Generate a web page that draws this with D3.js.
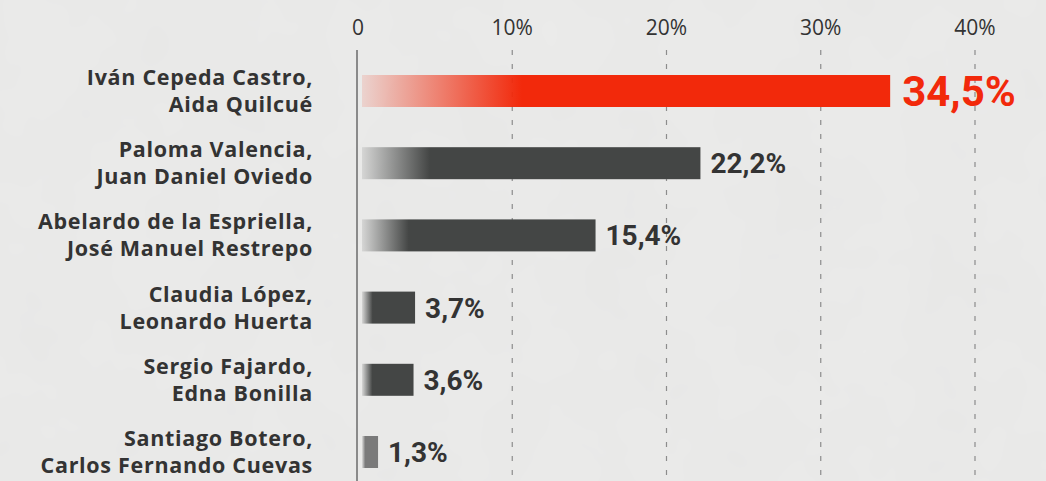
<!DOCTYPE html>
<html>
<head>
<meta charset="utf-8">
<script src="https://cdn.jsdelivr.net/npm/d3@7"></script>
<style>
  body { margin: 0; background: #ebebea; }
  svg { display: block; }
</style>
</head>
<body>
<svg id="chart" width="1046" height="481"></svg>
<script>
// Vote intention by ticket
var line1 = ["Iván Cepeda Castro,", "Paloma Valencia,", "Abelardo de la Espriella,", "Claudia López,", "Sergio Fajardo,", "Santiago Botero,"];
var line2 = ["Aida Quilcué", "Juan Daniel Oviedo", "José Manuel Restrepo", "Leonardo Huerta", "Edna Bonilla", "Carlos Fernando Cuevas"];
var values = [34.5, 22.2, 15.4, 3.7, 3.6, 1.3];
var barColors = ["#f2290b", "#444645", "#444645", "#444645", "#444645", "#7a7a7a"];
var ticks = [0, 10, 20, 30, 40];

var svg = d3.select("#chart");

// faint paper texture
var defs = svg.append("defs");
var filter = defs.append("filter").attr("id", "paper");
filter.append("feTurbulence")
    .attr("type", "fractalNoise")
    .attr("baseFrequency", 0.012)
    .attr("numOctaves", 3)
    .attr("seed", 4);
filter.append("feColorMatrix")
    .attr("values", "0 0 0 0 0.55  0 0 0 0 0.55  0 0 0 0 0.55  0 0 0 0.09 0");
svg.append("rect")
    .attr("width", 1046).attr("height", 481)
    .attr("fill", "#ebebea");
svg.append("rect")
    .attr("width", 1046).attr("height", 481)
    .attr("filter", "url(#paper)");

var xScale = d3.scaleLinear()
    .domain([0, 40])
    .range([358, 975]);

var yScale = d3.scalePoint()
    .domain(line1)
    .range([91, 452]);

var barH = 32;

// grid lines
svg.selectAll("line.grid")
    .data(ticks.slice(1))
    .enter()
    .append("line")
    .attr("class", "grid")
    .attr("x1", (d) => xScale(d))
    .attr("x2", (d) => xScale(d))
    .attr("y1", 50)
    .attr("y2", 481)
    .attr("stroke", "#8c8c8c")
    .attr("stroke-width", 1.2)
    .attr("stroke-dasharray", "5,9");

// tick labels
svg.selectAll("text.tick")
    .data(ticks)
    .enter()
    .append("text")
    .attr("class", "tick")
    .attr("x", (d) => xScale(d))
    .attr("y", 35)
    .attr("text-anchor", "middle")
    .attr("font-family", "'Open Sans', sans-serif")
    .attr("font-size", 21)
    .attr("fill", "#333")
    .text((d) => d === 0 ? "0" : d + "%");

// axis line
svg.append("line")
    .attr("x1", 357).attr("x2", 357)
    .attr("y1", 50).attr("y2", 481)
    .attr("stroke", "#8a8a8a")
    .attr("stroke-width", 2);

// one fading gradient per bar, fade scaled to bar length
values.forEach(function (v, i) {
    var x0 = xScale(0) + 4;
    var w = xScale(v) - x0;
    var fade = i === 0 ? 160 : Math.min(70, w * 0.2);
    var g = defs.append("linearGradient")
        .attr("id", "grad" + i)
        .attr("gradientUnits", "userSpaceOnUse")
        .attr("x1", x0).attr("x2", x0 + fade)
        .attr("y1", 0).attr("y2", 0);
    g.append("stop").attr("offset", 0).attr("stop-color", barColors[i]).attr("stop-opacity", 0.12);
    g.append("stop").attr("offset", 1).attr("stop-color", barColors[i]).attr("stop-opacity", 1);
});

svg.selectAll("rect.bar")
    .data(values)
    .enter()
    .append("rect")
    .attr("class", "bar")
    .attr("x", xScale(0) + 4)
    .attr("y", (d, i) => yScale(line1[i]) - barH / 2)
    .attr("width", (d) => xScale(d) - xScale(0) - 4)
    .attr("height", barH)
    .attr("fill", (d, i) => "url(#grad" + i + ")");

// value labels
svg.selectAll("text.value")
    .data(values)
    .enter()
    .append("text")
    .attr("class", "value")
    .attr("x", (d) => xScale(d) + (d > 30 ? 12 : 10))
    .attr("y", (d, i) => yScale(line1[i]) + (i === 0 ? 15 : 10))
    .attr("font-family", "Roboto, sans-serif")
    .attr("font-weight", "bold")
    .attr("font-size", (d, i) => i === 0 ? 42 : 28)
    .attr("fill", (d, i) => i === 0 ? "#f2290b" : "#333")
    .text((d) => d.toFixed(1).replace(".", ",") + "%");

// category labels
var labels = svg.selectAll("text.label")
    .data(line1)
    .enter()
    .append("text")
    .attr("class", "label")
    .attr("x", 313)
    .attr("y", (d) => yScale(d))
    .attr("text-anchor", "end")
    .attr("font-family", "'Open Sans', sans-serif")
    .attr("font-weight", "bold")
    .attr("font-size", 21.5)
    .attr("letter-spacing", 0.7)
    .attr("fill", "#333");

labels.append("tspan")
    .attr("x", 313)
    .attr("dy", -6)
    .text((d) => d);

labels.append("tspan")
    .attr("x", 313)
    .attr("dy", 27)
    .text((d, i) => line2[i]);
</script>
</body>
</html>
